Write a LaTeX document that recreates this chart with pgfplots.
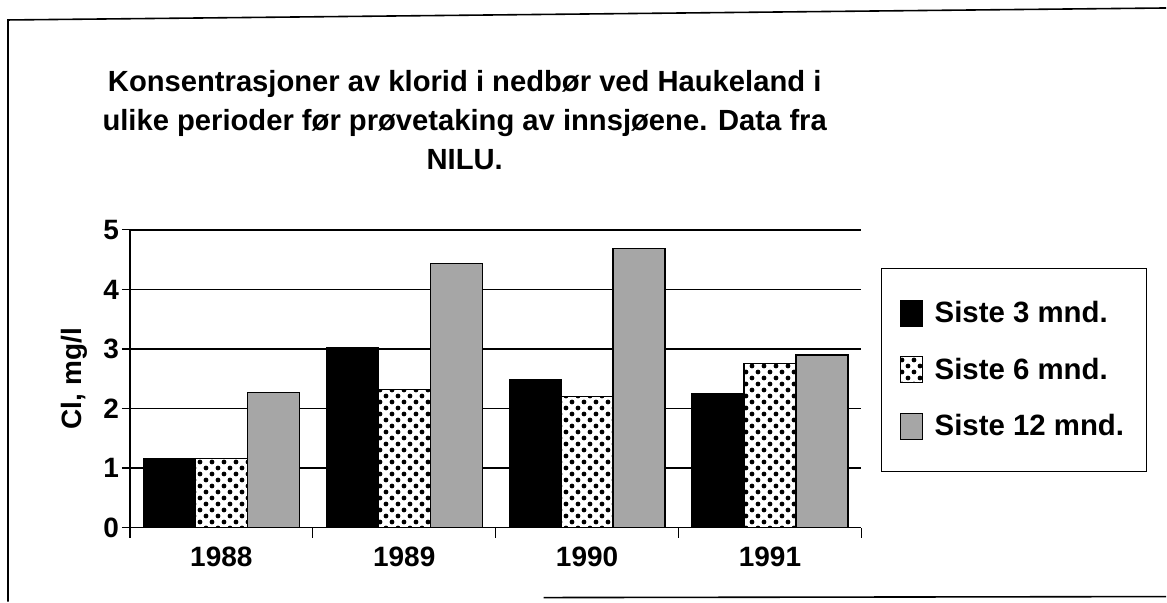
\documentclass[border=0pt]{standalone}
\usepackage{pgfplots}
\pgfplotsset{compat=1.18}
\usepackage{fontspec}
\setmainfont{Liberation Sans}
\usetikzlibrary{patterns}

\pgfdeclarepatternformonly{bigdots}{\pgfqpoint{0pt}{0pt}}{\pgfqpoint{6pt}{6pt}}{\pgfqpoint{6pt}{6pt}}{%
  \pgfpathcircle{\pgfqpoint{1.5pt}{1.5pt}}{1.2pt}%
  \pgfpathcircle{\pgfqpoint{4.5pt}{4.5pt}}{1.2pt}%
  \pgfusepath{fill}}

\begin{document}
\begin{tikzpicture}
\path (0,0) rectangle (583.5pt,301pt);
% frame of the scanned page
\draw[line width=0.8pt] (4pt,0pt) -- (4pt,291pt) -- (583.5pt,297pt);
\draw[line width=0.8pt] (272pt,2pt) -- (583.5pt,2.5pt);

\node[align=center, font=\bfseries\fontsize{14.6}{19.5}\selectfont] at (232.5pt,241pt)
  {Konsentrasjoner av klorid i nedbør ved Haukeland i\\ulike perioder før prøvetaking av innsjøene. Data fra\\NILU.};

\begin{axis}[
  at={(65pt,37pt)}, anchor=south west,
  scale only axis, width=366pt, height=149pt,
  xmin=-0.5, xmax=3.5, ymin=0, ymax=5,
  axis x line=bottom, axis y line=left,
  axis line style={-, line width=0.6pt},
  xtick={0,1,2,3}, xticklabels={1988,1989,1990,1991},
  minor xtick={-0.5,0.5,1.5,2.5,3.5},
  major x tick style={draw=none},
  minor tick length=5pt, major tick length=4pt,
  tick align=outside, tick style={black, line width=0.6pt},
  ytick={0,1,2,3,4,5},
  ymajorgrids, grid style={black, line width=0.8pt},
  /pgf/number format/assume math mode=true,
  ticklabel style={font=\bfseries\fontsize{14}{16}\selectfont},
  xticklabel style={yshift=-2pt},
  yticklabel style={xshift=2pt},
  ylabel={Cl, mg/l},
  every axis y label/.style={at={(axis description cs:-0.076,0.5)}, rotate=90, anchor=center,
    font=\bfseries\fontsize{14}{16}\selectfont},
  ybar=0pt, bar width=26pt,
  legend style={at={(1.027,0.872)}, anchor=north west, draw=black, line width=0.6pt,
    font=\bfseries\fontsize{14.7}{16}\selectfont, row sep=12pt,
    inner xsep=9pt, inner ysep=14.5pt, cells={anchor=west},
    /tikz/every odd column/.append style={column sep=4pt}},
  legend cell align=left,
  legend image code/.code={\draw[#1, line width=0.5pt] (0pt,-6.5pt) rectangle (11pt,6.5pt);},
]
\addplot[draw=black, fill=black, line width=0.6pt] coordinates {(0,1.16) (1,3.02) (2,2.48) (3,2.25)};
\addlegendentry{Siste 3 mnd.}
\addplot[draw=black, fill=white, postaction={pattern=bigdots}, line width=0.6pt] coordinates {(0,1.16) (1,2.32) (2,2.20) (3,2.75)};
\addlegendentry{Siste 6 mnd.}
\addplot[draw=black, fill=black!35, line width=0.6pt] coordinates {(0,2.27) (1,4.43) (2,4.68) (3,2.90)};
\addlegendentry{Siste 12 mnd.}
\end{axis}
\end{tikzpicture}
\end{document}
